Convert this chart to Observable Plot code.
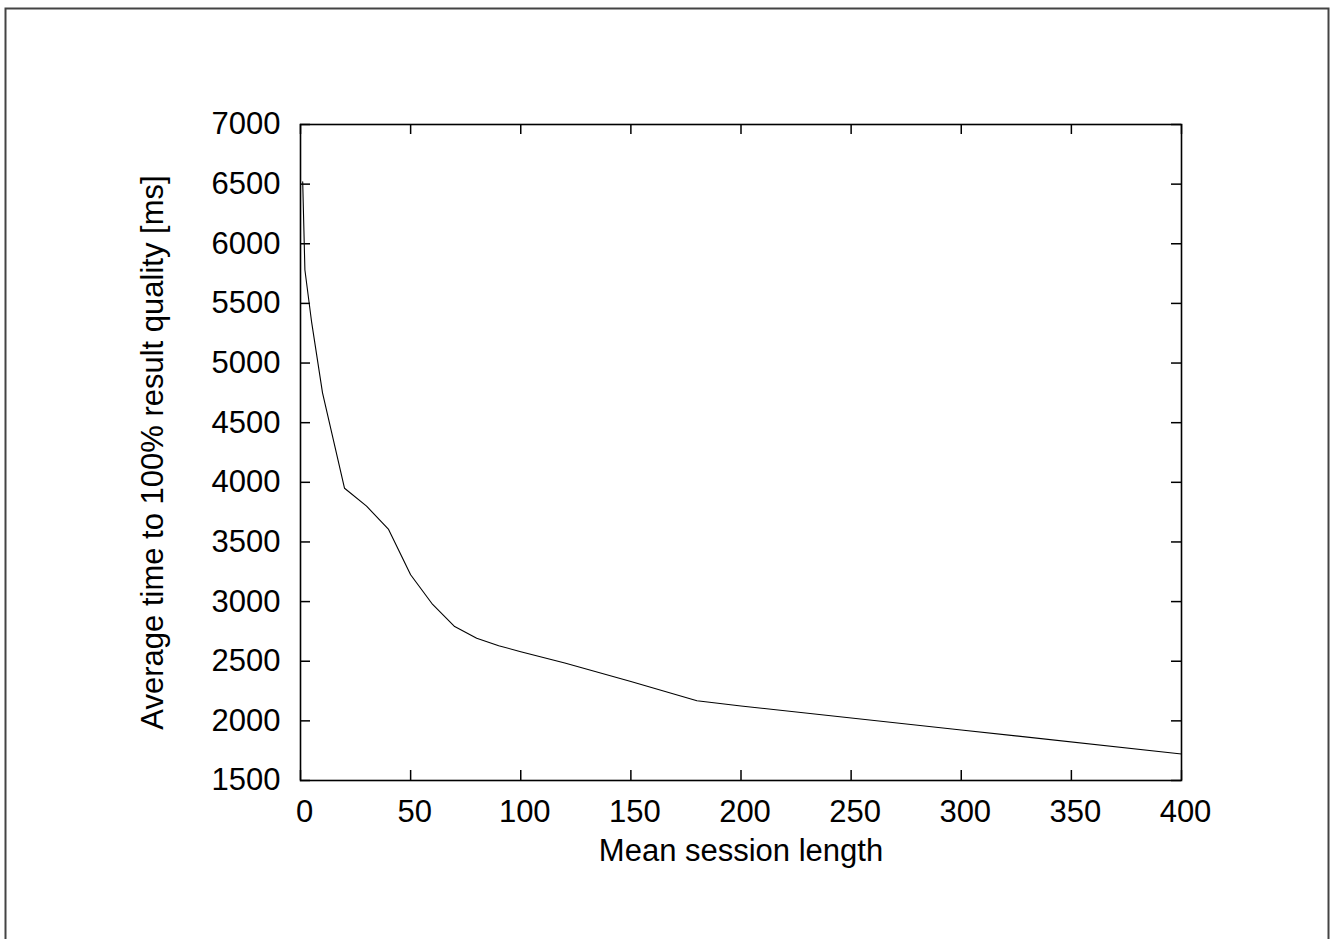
<!DOCTYPE html>
<html>
<head>
<meta charset="utf-8">
<script src="https://cdn.jsdelivr.net/npm/d3@7"></script>
<script src="https://cdn.jsdelivr.net/npm/@observablehq/plot@0.6"></script>
<style>
  html, body { margin: 0; padding: 0; background: #fff; }
  #chart svg { display: block; }
</style>
</head>
<body>
<div id="chart"></div>
<script>
// Data
const sessionLength = [1, 2, 5, 10, 20, 30, 40, 50, 60, 70, 80, 90, 100, 120, 150, 180, 200, 300, 400];
const avgTime = [6520, 5780, 5350, 4750, 3950, 3800, 3605, 3225, 2976, 2791, 2693, 2630, 2580, 2485, 2330, 2168, 2125, 1924, 1722];
const xTicks = [0, 50, 100, 150, 200, 250, 300, 350, 400];
const yTicks = [1500, 2000, 2500, 3000, 3500, 4000, 4500, 5000, 5500, 6000, 6500, 7000];
const xLabel = "Mean session length";
const yLabel = "Average time to 100% result quality [ms]";

const data = sessionLength.map((x, i) => ({x, y: avgTime[i]}));

const W = 1335, H = 939;
const mL = 300, mR = 154, mT = 124, mB = 159;
const fh = H - mT - mB, fw = W - mL - mR;
const tick = 10;
const fs = 31;

const chart = Plot.plot({
  width: W,
  height: H,
  marginLeft: mL,
  marginRight: mR,
  marginTop: mT,
  marginBottom: mB,
  style: {fontFamily: "'Liberation Sans', Arial, Helvetica, sans-serif", fontSize: fs + "px", color: "#000", background: "#fff"},
  x: {domain: [0, 400]},
  y: {domain: [1500, 7000]},
  marks: [
    // outer border of the figure
    Plot.frame({stroke: "#444", strokeWidth: 2, insetLeft: -(mL - 5), insetTop: -(mT - 8), insetRight: -(mR - 7), insetBottom: -(mB + 10)}),
    // inward ticks on all four sides
    Plot.tickX(xTicks, {x: d => d, insetTop: fh - tick, stroke: "#000", strokeWidth: 1.5}),
    Plot.tickX(xTicks, {x: d => d, insetBottom: fh - tick, stroke: "#000", strokeWidth: 1.5}),
    Plot.tickY(yTicks, {y: d => d, insetRight: fw - tick, stroke: "#000", strokeWidth: 1.5}),
    Plot.tickY(yTicks, {y: d => d, insetLeft: fw - tick, stroke: "#000", strokeWidth: 1.5}),
    Plot.axisX(xTicks, {tickSize: 0, tickPadding: 19, dx: 4, label: null, fontSize: fs}),
    Plot.axisY(yTicks, {tickSize: 0, tickPadding: 20, label: null, fontSize: fs, tickFormat: d => String(d)}),
    Plot.line(data, {x: "x", y: "y", stroke: "#000", strokeWidth: 1.1}),
    Plot.frame({stroke: "#000", strokeWidth: 1.6}),
    Plot.text([xLabel], {frameAnchor: "bottom", dy: 80, fontSize: fs, fill: "#000"}),
    Plot.text([yLabel], {frameAnchor: "left", textAnchor: "middle", dx: -147, rotate: -90, fontSize: fs, fill: "#000"})
  ]
});
document.getElementById("chart").appendChild(chart);
</script>
</body>
</html>
